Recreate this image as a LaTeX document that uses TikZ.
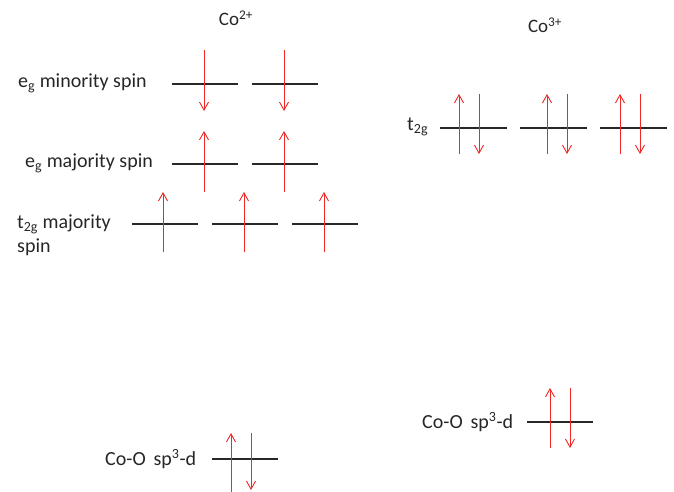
\documentclass[tikz,border=0pt]{standalone}
\usepackage{fontspec}
\setmainfont{Carlito}
\usetikzlibrary{arrows.meta}
\definecolor{spinred}{RGB}{240,40,40}
\definecolor{levelgray}{RGB}{40,40,40}
\begin{document}
\begin{tikzpicture}[x=1pt,y=-1pt,
  level/.style={draw=levelgray,line width=1.4pt},
  spin/.style={draw=spinred,line width=0.9pt,-{Straight Barb[length=8pt,width=9pt]}},
  lbl/.style={font=\fontsize{20}{24}\selectfont,text=black!85,inner sep=0pt},
  ion/.style={font=\fontsize{19}{22}\selectfont,text=black!85,inner sep=0pt}]
\useasboundingbox (0,0) rectangle (674,492);
% Co2+
\node[ion] (co2) at (236,18) {Co\textsuperscript{2+}};
\node[lbl,anchor=west] (egmin) at (18,83) {e\textsubscript{g} minority spin};
\node[lbl,anchor=west] (egmaj) at (25,163) {e\textsubscript{g} majority spin};
\node[lbl,anchor=west,align=left] (t2gmaj) at (17,235) {t\textsubscript{2g} majority\\spin};
% eg minority
\draw[level] (172,84) -- (238,84);
\draw[level] (252,84) -- (318,84);
\draw[spin] (204,50) -- (204,111);
\draw[spin] (284,50) -- (284,111);
% eg majority
\draw[level] (172,164) -- (238,164);
\draw[level] (252,164) -- (318,164);
\draw[spin] (204,192) -- (204,131);
\draw[spin] (284,192) -- (284,131);
% t2g majority
\draw[level] (132,224) -- (198,224);
\draw[level] (212,224) -- (278,224);
\draw[level] (292,224) -- (358,224);
\draw[spin] (163,252) -- (163,192);
\draw[spin] (244,252) -- (244,192);
\draw[spin] (324,252) -- (324,192);
% Co-O left
\node[lbl,anchor=west] (cool) at (105,459) {Co-O\, sp\textsuperscript{3}-d};
\draw[level] (212,459) -- (278,459);
\draw[spin] (231,492) -- (231,433);
\draw[spin] (251,433) -- (251,490);
% Co3+
\node[ion] (co3) at (545,25) {Co\textsuperscript{3+}};
\node[lbl,anchor=west] (t2g) at (407,127) {t\textsubscript{2g}};
\draw[level] (440,128) -- (507,128);
\draw[level] (520,128) -- (587,128);
\draw[level] (600,128) -- (667,128);
\draw[spin] (459,154) -- (459,94);
\draw[spin] (479,94) -- (479,154);
\draw[spin] (547,154) -- (547,94);
\draw[spin] (567,94) -- (567,154);
\draw[spin] (620,154) -- (620,94);
\draw[spin] (640,94) -- (640,154);
% Co-O right
\node[lbl,anchor=west] (coor) at (422,422) {Co-O\, sp\textsuperscript{3}-d};
\draw[level] (527,422) -- (593,422);
\draw[spin] (550,448) -- (550,388);
\draw[spin] (570,388) -- (570,448);
\end{tikzpicture}
\end{document}
